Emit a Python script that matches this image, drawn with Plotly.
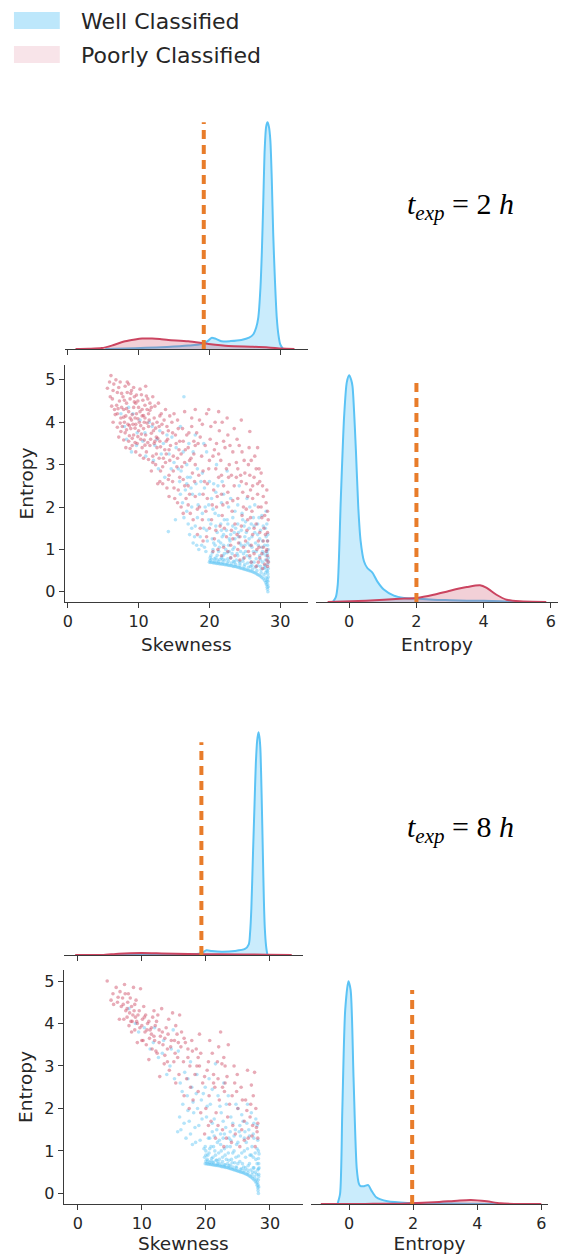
import plotly.graph_objects as go

# ------------------------------------------------------------------ data
LEGEND_LABELS = ["Well Classified", "Poorly Classified"]
PANEL_HOURS = ["2", "8"]
SKEW_TICKS = [0, 10, 20, 30]
ENT_TICKS_Y = [0, 1, 2, 3, 4, 5]
ENT_TICKS_X = [0, 2, 4, 6]

SKEW_THRESHOLD = [19.2, 19.3]
ENT_THRESHOLD = [2.0, 1.97]
SKEW_THR_HEIGHT = [1.0, 0.955]
ENT_THR_HEIGHT = [0.99, 0.96]

# KDE curves (relative density, tallest peak = 1)
P1_SKEW_WELL_X = [5.3, 8, 11, 14, 17.0, 18.9, 19.8, 20.3, 20.8, 21.7, 23.0, 24.5, 25.6, 26.2, 26.6, 26.9, 27.2, 27.4, 27.6, 27.8, 28.0, 28.2, 28.4, 28.6, 28.8, 29.0, 29.25, 29.5, 29.75, 30.0, 30.4]
P1_SKEW_WELL_Y = [0, 0.002, 0.005, 0.009, 0.015, 0.022, 0.036, 0.049, 0.046, 0.034, 0.035, 0.040, 0.050, 0.065, 0.095, 0.14, 0.27, 0.43, 0.65, 0.88, 0.98, 1.0, 0.98, 0.92, 0.75, 0.51, 0.3, 0.14, 0.06, 0.02, 0.0]
P1_SKEW_POOR_X = [1.1, 3.0, 4.8, 6.2, 8.1, 9.5, 10.5, 11.9, 13.0, 14.2, 17.0, 19.9, 22.7, 26.0, 28.3, 30.2, 32.0]
P1_SKEW_POOR_Y = [0, 0.001, 0.004, 0.015, 0.034, 0.042, 0.046, 0.046, 0.044, 0.040, 0.034, 0.022, 0.013, 0.010, 0.007, 0.002, 0]

P1_ENT_WELL_X = [-0.49, -0.4, -0.34, -0.25, -0.15, -0.07, 0.0, 0.06, 0.1, 0.2, 0.27, 0.34, 0.44, 0.54, 0.69, 0.84, 1.03, 1.33, 1.63, 2.0, 2.5, 3.0, 3.5, 4.0, 4.5, 5.07]
P1_ENT_WELL_Y = [0, 0.02, 0.077, 0.45, 0.82, 0.97, 1.0, 0.98, 0.95, 0.67, 0.42, 0.27, 0.18, 0.15, 0.13, 0.09, 0.055, 0.028, 0.018, 0.015, 0.010, 0.008, 0.006, 0.005, 0.003, 0]
P1_ENT_POOR_X = [-0.64, 0.05, 0.5, 1.03, 1.5, 2.02, 2.51, 3.0, 3.5, 3.89, 4.09, 4.38, 4.68, 5.07, 5.86]
P1_ENT_POOR_Y = [0, 0.003, 0.006, 0.010, 0.014, 0.018, 0.032, 0.050, 0.066, 0.074, 0.062, 0.032, 0.010, 0.003, 0]

P2_SKEW_WELL_X = [5.9, 10, 15, 18.3, 19.4, 20.1, 20.9, 22.5, 24.5, 26.1, 26.7, 26.9, 27.1, 27.35, 27.6, 27.8, 28.0, 28.2, 28.35, 28.5, 28.7, 28.9, 29.05, 29.2, 29.4, 29.6]
P2_SKEW_WELL_Y = [0, 0.001, 0.002, 0.003, 0.010, 0.021, 0.018, 0.015, 0.018, 0.027, 0.048, 0.1, 0.21, 0.45, 0.68, 0.86, 0.96, 1.0, 0.98, 0.93, 0.72, 0.45, 0.25, 0.12, 0.04, 0.0]
P2_SKEW_POOR_X = [-0.4, 3.8, 6.4, 10.0, 13.1, 17.3, 22, 29.7, 33.4]
P2_SKEW_POOR_Y = [0, 0.0, 0.006, 0.009, 0.007, 0.004, 0.003, 0.0015, 0]

P2_ENT_WELL_X = [-0.36, -0.28, -0.21, -0.12, -0.02, 0.05, 0.14, 0.24, 0.31, 0.36, 0.47, 0.6, 0.7, 0.85, 1.2, 1.82, 2.65, 3.7, 4.73]
P2_ENT_WELL_Y = [0, 0.045, 0.42, 0.87, 1.0, 0.96, 0.57, 0.16, 0.09, 0.08, 0.08, 0.085, 0.06, 0.03, 0.012, 0.0045, 0.003, 0.0015, 0]
P2_ENT_POOR_X = [-0.88, 0.5, 1.6, 2.65, 3.38, 3.8, 4.3, 4.73, 6.0]
P2_ENT_POOR_Y = [0, 0.0005, 0.0015, 0.0075, 0.015, 0.018, 0.012, 0.003, 0]

# Scatter points (skewness, entropy)
P1_POOR_PTS = [
    (6.1,5.1),(5.6,4.8),(6.5,4.9),(7.0,4.7),(7.4,4.95),(8.1,4.85),(8.6,4.9),(9.0,4.75),(6.3,4.55),(6.9,4.4),
    (7.3,4.5),(7.8,4.6),(8.3,4.45),(8.8,4.55),(9.4,4.6),(9.9,4.5),(10.4,4.65),(10.9,4.4),(11.3,4.55),(7.0,4.2),
    (7.5,4.1),(7.9,4.3),(8.2,4.15),(8.6,4.25),(9.0,4.05),(9.3,4.35),(9.7,4.2),(10.1,4.0),(10.5,4.3),(10.9,4.1),
    (11.4,4.2),(11.8,4.35),(12.2,4.1),(7.7,3.9),(8.1,3.75),(8.5,3.95),(8.9,3.85),(9.3,3.7),(9.6,3.95),(10.0,3.8),
    (10.3,3.6),(10.7,3.85),(11.0,3.7),(11.4,3.9),(11.7,3.6),(12.1,3.8),(12.5,3.65),(8.6,3.55),(9.1,3.45),(9.8,3.5),
    (10.5,3.4),(11.1,3.3),(11.6,3.45),(12.0,3.2),(12.6,3.4),(13.0,3.55),(7.2,3.65),(8.0,4.0),(9.5,4.1),(10.8,4.0),
    (6.6,4.3),(6.0,4.6),(8.4,4.7),(9.6,4.45),(11.0,4.85),(12.0,4.6),(12.8,4.45),(13.2,4.2),(13.6,4.05),(12.9,3.9),
    (13.4,3.75),(14.0,3.9),(14.4,4.15),(15.0,4.2),(15.5,4.05),(14.1,3.6),(13.7,3.35),(14.5,3.45),(15.2,3.7),(15.8,3.55),
    (16.2,3.85),(12.4,3.0),(13.1,2.85),(13.8,3.05),(14.3,2.75),(14.9,3.2),(15.4,2.95),(16.0,3.25),(16.5,3.05),(17.0,3.4),
    (17.4,3.15),(13.0,2.6),(14.0,2.45),(14.8,2.6),(15.6,2.4),(16.3,2.65),(17.0,2.5),(17.6,2.8),(18.0,3.0),(18.4,3.5),
    (18.9,3.2),(16.8,3.7),(17.5,3.9),(18.2,3.75),(19.0,3.95),(19.6,4.2),(20.2,3.9),(15.1,2.2),(16.0,2.0),(16.7,2.2),
    (17.3,1.85),(18.0,2.25),(18.6,2.0),(19.3,2.6),(19.9,2.9),(20.5,3.2),(21.0,3.5),(21.6,3.1),(22.2,3.4),(22.8,3.0),
    (23.3,3.3),(20.6,2.4),(21.3,2.7),(22.0,2.5),(22.7,2.7),(23.5,2.5),(24.0,2.9),(19.5,1.9),(20.3,1.7),(21.0,2.0),
    (21.8,1.8),(22.5,2.1),(23.2,1.9),(24.0,2.2),(18.7,1.5),(19.6,1.3),(20.9,1.45),(22.1,1.5),(23.6,1.6),(21.4,3.8),
    (22.6,3.7),(23.9,3.6),(24.6,3.3),(20.8,4.0),(24.5,2.6),(25.0,2.8),(25.5,3.0),(25.8,2.4),(26.3,2.7),(26.8,2.3),
    (27.3,2.0),(27.8,1.8),(24.8,2.0),(25.4,1.7),(26.0,1.9),(26.6,1.6),(27.1,1.4),(27.6,1.2),(28.1,1.0),(28.2,1.4),
    (28.0,2.1),(24.3,1.3),(25.1,1.2),(25.9,1.1),(26.7,1.0),(27.4,0.9),(28.1,0.75),(24.0,1.0),(23.0,1.1),(22.0,1.05),
    (21.2,1.0),(25.6,3.4),(26.4,3.2),(27.0,2.9),(28.3,1.7),(27.5,2.5),(25.7,0.85),(26.9,0.7),(28.2,0.6),(23.6,0.85),
    (24.9,0.8),(20.5,0.95),(10.7,3.15),(11.8,2.85),(12.7,2.55),(14.3,2.25),(7.6,4.35),(9.2,3.95),(10.2,4.25),(11.5,4.05),
    (8.8,4.1),(12.3,3.55),(13.5,3.15),(15.7,3.35),(17.8,3.55),(19.1,2.3),(21.7,2.3),(23.8,2.7),(26.1,2.2),(27.7,1.5),
    (5.9,4.95),(6.4,4.75),(6.8,5.0),(7.2,4.82),(7.6,4.68),(8.0,4.52),(8.4,4.95),(8.9,4.68),(9.3,4.82),(9.7,4.64),
    (10.2,4.78),(10.6,4.52),(11.1,4.62),(11.6,4.45),(12.3,4.38),(6.2,4.38),(6.7,4.18),(7.1,4.32),(7.4,3.98),(7.9,4.12),
    (8.3,4.32),(8.7,3.92),(9.1,4.18),(9.5,3.86),(9.9,4.08),(10.3,3.92),(10.7,4.16),(11.2,3.98),(11.6,4.28),(12.0,3.96),
    (12.4,3.86),(7.5,3.78),(7.9,3.58),(8.3,3.82),(8.7,3.68),(9.1,3.62),(9.5,3.52),(9.9,3.66),(10.4,3.72),(10.8,3.58),
    (11.3,3.52),(11.8,3.74),(12.2,3.5),(12.7,3.62),(13.1,3.42),(8.8,3.38),(9.6,3.3),(10.2,3.22),(10.9,3.46),(11.4,3.12),
    (12.0,3.05),(12.5,3.25),(6.4,4.0),(7.0,3.88),(8.2,3.4),(9.4,4.48),(10.0,4.35),(10.5,4.15),(11.2,4.3),(12.6,4.0),
    (13.0,4.15),(13.3,3.95),(13.8,4.3),(14.2,3.8),(14.7,4.0),(13.9,3.55),(14.3,3.35),(14.8,3.75),(15.3,3.5),(15.6,3.85),
    (12.9,3.15),(13.4,2.95),(13.9,3.25),(14.4,3.1),(14.9,2.85),(15.5,3.15),(16.1,2.95),(16.6,3.35),(17.2,3.1),(17.8,3.25),
    (13.4,2.55),(14.2,2.65),(15.0,2.45),(15.8,2.7),(16.5,2.5),(17.2,2.3),(17.9,2.6),(18.5,2.75),(19.1,2.85),(19.7,2.55),
    (16.3,3.55),(17.1,3.75),(18.0,3.45),(18.7,3.65),(19.4,3.45),(20.1,3.6),(20.7,3.35),(21.3,3.25),(22.0,3.55),(22.9,3.45),
    (15.5,2.1),(16.3,1.85),(17.0,2.05),(17.7,1.7),(18.3,1.95),(19.0,1.7),(19.7,2.2),(20.4,2.05),(21.1,2.25),(21.9,2.05),
    (22.6,2.35),(23.3,2.15),(18.3,1.35),(19.1,1.2),(20.0,1.5),(20.7,1.25),(21.5,1.55),(22.4,1.3),(23.1,1.45),(23.9,1.35),
    (20.0,3.1),(20.9,2.9),(21.7,2.75),(22.4,2.9),(23.1,2.75),(23.8,3.05),(24.4,2.75),(17.5,4.1),(18.6,4.05),(21.8,4.0),
    (24.7,2.35),(25.2,2.55),(25.7,2.75),(26.1,2.5),(26.6,2.9),(27.1,2.6),(27.6,2.25),(28.1,2.4),(24.6,1.8),(25.2,1.95),
    (25.8,1.75),(26.3,1.5),(26.9,2.0),(27.4,1.75),(27.9,1.35),(28.2,1.2),(24.5,1.55),(25.3,1.45),(26.1,1.35),(26.9,1.2),
    (27.6,1.05),(28.2,0.85),(24.1,1.15),(24.8,1.05),(25.5,0.95),(26.3,0.9),(27.1,0.8),(27.8,0.65),(28.3,0.7),(23.3,1.25),
    (22.6,0.95),(21.7,0.85),(23.0,0.8),(24.3,0.75),(25.9,0.7),(26.6,0.6),(27.5,0.55),(28.0,0.95),(27.0,1.05),(25.4,2.25),
    (26.8,2.55),(28.2,1.9),(24.9,3.1),(25.9,3.1),(27.3,2.8),
    (21.3,4.25),(24.5,4.05),(25.7,3.78),(26.8,3.4),(22.5,4.1),(23.5,3.85),(19.9,4.3),(16.5,4.25),(18.0,4.3),(24.2,3.45),
]
P1_WELL_PTS = [
    (20.0,0.70),(20.2,0.69),(20.4,0.69),(20.6,0.68),(20.8,0.68),(21.0,0.67),(21.2,0.67),(21.4,0.66),(21.6,0.66),(21.8,0.65),
    (22.0,0.65),(22.2,0.64),(22.4,0.64),(22.6,0.63),(22.8,0.62),(23.0,0.62),(23.2,0.61),(23.4,0.60),(23.6,0.60),(23.8,0.59),
    (24.0,0.58),(24.2,0.57),(24.4,0.56),(24.6,0.55),(24.8,0.54),(25.0,0.53),(25.2,0.52),(25.4,0.51),(25.6,0.50),(25.8,0.49),
    (26.0,0.48),(26.2,0.46),(26.4,0.45),(26.6,0.43),(26.8,0.41),(27.0,0.39),(27.2,0.37),(27.4,0.34),(27.6,0.31),(27.8,0.27),
    (27.95,0.22),(28.05,0.17),(28.15,0.11),(28.2,0.06),(28.25,0.0),
    (20.1,0.74),(20.7,0.72),(21.3,0.71),(21.9,0.70),(22.5,0.68),(23.1,0.67),(23.7,0.65),(24.3,0.63),(24.9,0.60),(25.5,0.58),
    (26.1,0.54),(26.7,0.50),(27.3,0.45),(27.7,0.40),(28.0,0.33),(28.1,0.25),(28.2,0.18),(28.2,0.3),(28.25,0.42),(28.3,0.55),
    (28.2,0.65),(28.3,0.8),(28.15,0.9),(28.3,1.0),
    (20.2,0.85),(20.5,1.0),(20.9,0.8),(21.3,0.95),(21.6,1.15),(21.9,0.85),(22.3,1.0),(22.6,0.78),(22.9,1.2),(23.2,0.9),
    (23.5,1.05),(23.8,0.75),(24.1,1.3),(24.4,0.95),(24.7,0.72),(25.0,1.1),(25.3,0.85),(25.6,1.25),(25.9,0.7),(26.2,0.95),
    (26.5,1.15),(26.8,0.62),(27.1,0.85),(27.4,1.05),(27.7,0.55),(27.9,0.75),(28.1,0.95),(20.4,1.25),(21.1,1.4),(21.8,1.3),
    (22.4,1.45),(23.0,1.35),(23.7,1.5),(24.5,1.45),(25.2,1.4),(26.0,1.3),(26.8,1.35),(27.5,1.2),(28.0,1.3),(20.7,0.78),
    (21.5,0.76),(22.1,0.9),(22.8,0.95),(23.4,0.72),(24.0,0.85),(24.8,0.9),(25.4,0.68),(26.0,0.62),(26.6,0.78),(27.2,0.6),
    (27.6,0.9),(28.1,0.5),(27.9,0.45),(27.5,0.7),
    (17.0,1.6),(17.5,2.0),(17.9,1.3),(18.3,1.75),(18.6,2.3),(18.9,1.1),(19.2,1.5),(19.4,2.0),(19.7,1.2),(19.9,1.7),
    (16.6,2.4),(16.2,2.1),(15.8,2.6),(17.3,2.7),(18.1,2.55),(20.3,2.2),(20.8,1.85),(21.2,2.5),(21.6,1.6),(22.0,2.3),
    (19.0,2.8),(20.0,2.6),(18.5,1.0),(19.5,0.95),(17.7,1.15),
    (22.5,1.7),(23.0,2.2),(23.6,1.9),(24.2,2.5),(24.7,1.7),(25.3,2.2),(25.9,1.6),(26.4,2.05),(27.0,1.75),(27.6,1.55),
    (28.0,1.9),(24.0,1.6),
    (8.0,3.9),(9.2,4.2),(9.8,3.75),(10.6,3.55),(11.5,4.0),(12.3,3.45),(13.2,3.25),(14.0,3.7),(14.6,2.9),(15.3,3.4),
    (16.0,2.85),(11.0,3.2),(13.7,2.7),(15.9,3.9),(16.8,3.0),(17.7,3.3),(9.0,3.3),(8.3,3.6),(16.4,4.6),(12.8,2.9),
    (18.3,2.9),(19.6,3.3),
    (20.1,0.8),(20.4,0.92),(20.8,1.1),(21.1,0.86),(21.4,1.05),(21.7,0.8),(22.0,1.1),(22.2,0.75),(22.5,0.92),(22.7,1.1),
    (23.0,0.8),(23.3,1.0),(23.6,1.25),(23.9,0.9),(24.2,0.72),(24.5,1.1),(24.8,0.78),(25.1,0.95),(25.4,1.15),(25.7,0.8),
    (26.0,1.05),(26.3,0.7),(26.6,0.95),(26.9,1.1),(27.2,0.75),(27.5,0.95),(27.8,0.62),(28.0,0.85),(28.2,1.1),(27.3,0.52),
    (26.5,0.58),(25.8,0.6),(25.0,0.65),(24.3,0.68),(23.5,0.7),(22.7,0.72),(21.9,0.76),(21.1,0.75),(20.3,0.77),(27.9,0.58),
    (20.6,1.15),(21.3,1.2),(22.0,1.35),(22.8,1.25),(23.5,1.4),(24.3,1.15),(25.0,1.3),(25.7,1.1),(26.4,1.4),(27.1,1.25),
    (27.8,1.1),(28.2,1.2),(20.9,1.55),(21.7,1.45),(22.6,1.6),(23.3,1.55),(24.1,1.4),(24.9,1.55),(25.6,1.5),(26.3,1.55),
    (27.2,1.45),(27.9,1.5),(28.25,1.35),(28.3,0.35),(28.25,0.25),(28.3,0.12),(28.2,0.48),(28.3,0.72),
    (16.8,1.9),(17.2,1.35),(17.6,2.3),(18.0,1.55),(18.4,2.05),(18.7,1.3),(19.0,1.85),(19.3,2.45),(19.6,1.45),(19.9,2.05),
    (20.2,1.6),(20.5,1.95),(20.9,2.35),(21.3,1.8),(21.7,2.1),(22.1,1.7),(17.4,2.45),(16.9,2.7),(15.9,2.3),(16.4,1.75),
    (18.8,2.6),(20.6,2.55),(21.8,2.6),(22.7,2.0),(23.3,1.75),(24.0,2.05),(24.6,1.85),(25.1,1.65),(25.7,2.0),(26.2,1.75),
    (26.8,1.6),(27.4,1.8),(28.1,1.6),(18.2,1.1),(19.3,1.05),(17.5,1.5),
    (7.5,4.2),(8.6,4.35),(10.2,4.05),(10.9,3.75),(11.9,3.9),(12.6,3.6),(13.5,3.5),(14.3,3.25),(15.0,3.05),(15.6,2.9),
    (16.3,3.3),(17.1,3.5),(14.7,3.65),(12.1,3.1),(9.7,3.45),(16.8,2.55),(13.0,3.8),(18.0,3.7),(19.2,3.5),(22.5,2.85),
    (21.0,3.0),(14.2,1.42),(15.2,1.7),
]
P2_POOR_PTS = [
    (4.6,5.0),(6.0,4.85),(7.3,4.92),(8.7,4.85),(9.8,4.82),(5.2,4.55),(5.6,4.45),(6.3,4.62),(6.8,4.4),(7.0,4.6),
    (7.5,4.3),(7.8,4.5),(8.1,4.25),(8.4,4.4),(8.8,4.3),(9.1,4.55),(9.4,4.2),(7.2,4.1),(7.7,4.15),(8.0,3.95),
    (8.5,4.05),(8.9,3.85),(9.3,4.0),(9.7,3.9),(10.1,4.1),(10.5,3.8),(10.9,4.0),(11.3,3.85),(11.7,4.15),(12.1,3.95),
    (12.5,4.2),(10.2,3.6),(10.7,3.5),(11.2,3.65),(11.6,3.4),(12.0,3.6),(12.4,3.3),(12.9,3.7),(13.3,3.5),(13.8,3.9),
    (14.2,4.1),(14.8,4.25),(15.3,3.95),(15.9,4.2),(14.0,3.4),(14.6,3.6),(15.2,3.3),(15.7,3.55),(16.2,3.8),(13.5,3.05),
    (14.3,2.9),(15.0,3.1),(15.8,2.8),(16.5,3.1),(17.2,3.4),(17.8,3.6),(18.5,3.4),(19.0,3.0),(17.0,2.7),(17.6,2.5),
    (18.3,2.8),(19.5,2.6),(20.2,2.9),(21.0,3.3),(21.8,3.1),(22.3,3.8),(22.8,3.2),(23.5,3.5),(20.5,2.3),(21.4,2.5),
    (22.1,2.2),(22.9,2.4),(23.7,2.1),(24.5,2.6),(19.2,1.9),(20.0,2.0),(20.8,1.7),(21.6,1.9),(22.6,1.5),(23.4,1.8),
    (24.2,1.6),(25.0,2.0),(25.6,1.5),(26.2,2.2),(26.5,2.9),(27.6,2.85),(26.9,1.8),(27.4,2.3),(27.9,1.55),(28.1,1.3),
    (27.7,1.1),(26.6,1.3),(25.3,1.1),(24.0,1.2),(22.8,1.1),(21.5,1.3),(18.0,2.2),(16.6,2.3),(12.8,2.75),(11.1,3.15),
    (9.3,3.55),(13.1,4.35),(6.5,4.1),(10.3,4.4),(11.9,4.3),(19.8,1.4),(25.5,2.5),(24.4,3.0),(17.5,3.0),(20.6,3.6),
    (7.9,4.7),(8.3,4.05),(9.0,4.15),(10.6,4.2),(11.5,3.75),(12.7,3.85),(13.6,3.25),(15.5,3.75),(16.8,3.55),(18.8,3.2),
    (21.2,2.8),(22.5,3.05),(23.0,2.6),(24.8,2.4),(26.0,1.7),(27.3,1.6),(28.0,1.45),(27.0,2.1),
    (5.5,4.7),(6.2,4.5),(6.6,4.75),(7.1,4.45),(7.4,4.7),(7.7,4.35),(8.2,4.6),(8.6,4.2),(8.9,4.45),(9.2,4.05),
    (9.6,4.3),(10.0,3.95),(10.4,4.15),(10.8,3.85),(11.1,4.05),(11.5,3.9),(11.9,3.7),(12.3,4.05),(12.7,3.55),(13.2,3.8),
    (13.6,3.65),(14.1,3.75),(14.5,3.45),(15.1,3.6),(15.6,3.2),(16.1,3.45),(16.6,3.65),(17.2,3.2),(17.9,3.35),(18.6,3.0),
    (19.2,3.3),(19.8,2.75),(20.4,3.1),(21.2,2.6),(21.9,2.7),(22.6,2.5),(23.3,2.75),(24.1,2.3),(24.9,2.8),(25.7,2.2),
    (26.4,1.95),(27.1,2.55),(27.8,2.0),(28.1,1.65),(26.0,1.25),(27.2,1.35),(24.6,1.4),(23.2,1.3),(21.9,1.6),(20.4,1.6),
    (18.8,2.4),(17.4,2.0),(15.3,2.6),(14.0,3.1),(12.2,3.35),(10.0,3.6),(8.4,3.8),(22.0,3.45),(23.0,3.0),(19.0,3.75),
]
P2_WELL_PTS = [
    (19.9,0.70),(20.1,0.70),(20.3,0.69),(20.5,0.69),(20.7,0.68),(20.9,0.68),(21.1,0.67),(21.3,0.67),(21.5,0.66),(21.7,0.66),
    (21.9,0.65),(22.1,0.65),(22.3,0.64),(22.5,0.63),(22.7,0.63),(22.9,0.62),(23.1,0.61),(23.3,0.61),(23.5,0.60),(23.7,0.59),
    (23.9,0.58),(24.1,0.57),(24.3,0.56),(24.5,0.55),(24.7,0.54),(24.9,0.53),(25.1,0.52),(25.3,0.51),(25.5,0.50),(25.7,0.49),
    (25.9,0.48),(26.1,0.47),(26.3,0.45),(26.5,0.44),(26.7,0.42),(26.9,0.40),(27.1,0.38),(27.3,0.35),(27.5,0.32),(27.7,0.29),
    (27.85,0.25),(28.0,0.19),(28.1,0.13),(28.15,0.07),(28.2,0.0),
    (20.0,0.76),(20.6,0.73),(21.2,0.72),(21.8,0.70),(22.4,0.69),(23.0,0.67),(23.6,0.65),(24.2,0.62),(24.8,0.60),(25.4,0.57),
    (26.0,0.54),(26.6,0.49),(27.2,0.44),(27.6,0.39),(27.9,0.33),(28.05,0.26),(28.15,0.2),(28.2,0.32),(28.25,0.45),(28.2,0.58),
    (28.25,0.7),(28.2,0.82),(28.3,0.93),
    (19.8,0.85),(20.0,1.0),(20.3,0.9),(20.6,1.05),(20.9,0.82),(21.2,1.1),(21.5,0.9),(21.8,1.2),(22.1,0.8),(22.4,1.0),
    (22.7,1.3),(23.0,0.9),(23.3,1.1),(23.6,0.78),(23.9,1.25),(24.2,0.95),(24.5,0.72),(24.8,1.15),(25.1,0.88),(25.4,1.35),
    (25.7,0.7),(26.0,1.0),(26.3,1.2),(26.6,0.65),(26.9,0.9),(27.2,1.1),(27.5,0.6),(27.8,0.8),(28.0,1.05),(28.1,0.55),
    (20.4,1.3),(21.0,1.45),(21.7,1.5),(22.3,1.4),(23.1,1.55),(23.8,1.45),(24.6,1.5),(25.3,1.6),(26.1,1.45),(26.8,1.35),
    (27.5,1.3),(28.0,1.6),(20.8,0.76),(21.6,0.78),(22.6,0.85),(23.4,0.7),(24.0,0.8),(25.0,0.7),(26.2,0.6),(27.0,0.55),
    (27.7,0.5),(27.4,0.85),
    (15.6,1.45),(16.1,1.5),(16.9,1.3),(17.4,1.7),(17.9,1.15),(18.3,1.55),(18.7,2.0),(19.1,1.25),(19.4,1.75),(19.7,1.05),
    (16.4,2.1),(17.1,2.3),(17.8,2.5),(18.5,2.35),(19.3,2.2),(20.1,1.8),(20.7,2.1),(21.3,1.75),(21.9,2.3),(22.4,1.9),
    (23.2,2.1),(23.9,1.8),(24.7,2.1),(25.6,1.85),(26.4,1.65),(27.1,1.9),(27.8,1.75),(16.0,2.6),(18.1,1.9),(19.9,2.5),
    (8.0,4.35),(9.5,3.8),(10.4,3.9),(11.8,3.55),(12.6,3.2),(13.4,3.6),(14.4,3.0),(15.1,2.7),(15.7,3.35),(16.7,2.85),
    (17.6,3.1),(13.9,2.8),(11.3,3.4),(14.9,3.85),(20.5,2.7),(22.8,2.6),(21.5,3.05),
    (20.0,0.9),(20.2,0.8),(20.5,0.95),(20.8,1.1),(21.1,0.85),(21.4,1.0),(21.7,0.78),(22.0,0.95),(22.3,1.15),(22.6,0.75),
    (22.9,1.05),(23.2,0.8),(23.5,0.95),(23.8,1.1),(24.1,0.72),(24.4,1.0),(24.7,0.85),(25.0,1.2),(25.3,0.75),(25.6,0.95),
    (25.9,0.62),(26.2,0.85),(26.5,1.05),(26.8,0.7),(27.1,0.9),(27.4,0.6),(27.7,0.95),(28.0,0.7),(28.2,1.0),(27.9,0.45),
    (27.3,0.5),(26.5,0.55),(25.6,0.58),(24.7,0.62),(23.8,0.66),(22.9,0.68),(22.0,0.72),(21.1,0.74),(20.3,0.76),(19.9,1.1),
    (20.6,1.3),(21.3,1.35),(22.1,1.25),(22.9,1.4),(23.6,1.3),(24.4,1.35),(25.2,1.45),(26.0,1.3),(26.7,1.5),(27.4,1.4),
    (28.1,1.25),(28.25,0.4),(28.3,0.6),(28.25,0.15),(21.0,1.65),(22.7,1.7),(24.2,1.65),(25.8,1.7),(27.5,1.65),(20.2,2.05),
    (18.9,1.6),(18.4,1.2),(17.6,1.4),(16.6,1.65),(17.2,1.95),(18.0,2.15),(19.6,2.35),(21.0,2.45),(22.2,2.05),(23.5,2.3),
    (25.0,2.0),(26.5,2.1),(15.9,1.8),(16.3,2.4),(9.0,4.0),(12.0,3.9),(13.2,3.3),(14.6,3.4),(17.2,2.7),(18.6,2.8),
]

# ------------------------------------------------------------------ style
W, H = 563, 1254
BLUE = "#5BC3F5"
BLUE_FILL = "rgba(91,195,245,0.32)"
RED = "#CB4460"
RED_FILL = "rgba(203,68,96,0.25)"
ORANGE = "#E87C2A"
AX = "#3a3a3a"
TXT = "#262626"
FONT = "DejaVu Sans"


def px_dom(a, b, total):
    return [a / total, b / total]


def py_dom(top, bottom):
    return [1 - bottom / H, 1 - top / H]


fig = go.Figure()


def kde(x, y, color, fill, ax):
    fig.add_trace(go.Scatter(x=x, y=y, mode="lines", line=dict(color=color, width=2, shape="spline", smoothing=0.7),
                             fill="tozeroy", fillcolor=fill, xaxis="x" + ax, yaxis="y" + ax,
                             showlegend=False, hoverinfo="skip"))


def thr(xv, h, ax):
    fig.add_trace(go.Scatter(x=[xv, xv], y=[0, h], mode="lines",
                             line=dict(color=ORANGE, width=4, dash="9px,6px"),
                             xaxis="x" + ax, yaxis="y" + ax, showlegend=False, hoverinfo="skip"))


def pts(points, color, ax, size=3.6, opacity=0.45):
    xs = [p[0] for p in points]
    ys = [p[1] for p in points]
    fig.add_trace(go.Scatter(x=xs, y=ys, mode="markers",
                             marker=dict(color=color, size=size, opacity=opacity, line=dict(width=0)),
                             xaxis="x" + ax, yaxis="y" + ax, showlegend=False, hoverinfo="skip"))


# panel 1
kde(P1_SKEW_WELL_X, P1_SKEW_WELL_Y, BLUE, BLUE_FILL, "")
kde(P1_SKEW_POOR_X, P1_SKEW_POOR_Y, RED, RED_FILL, "")
thr(SKEW_THRESHOLD[0], SKEW_THR_HEIGHT[0], "")
pts(P1_WELL_PTS, BLUE, "2")
pts(P1_POOR_PTS, RED, "2")
kde(P1_ENT_WELL_X, P1_ENT_WELL_Y, BLUE, BLUE_FILL, "3")
kde(P1_ENT_POOR_X, P1_ENT_POOR_Y, RED, RED_FILL, "3")
thr(ENT_THRESHOLD[0], ENT_THR_HEIGHT[0], "3")
# panel 2
kde(P2_SKEW_WELL_X, P2_SKEW_WELL_Y, BLUE, BLUE_FILL, "4")
kde(P2_SKEW_POOR_X, P2_SKEW_POOR_Y, RED, RED_FILL, "4")
thr(SKEW_THRESHOLD[1], SKEW_THR_HEIGHT[1], "4")
pts(P2_WELL_PTS, BLUE, "5")
pts(P2_POOR_PTS, RED, "5")
kde(P2_ENT_WELL_X, P2_ENT_WELL_Y, BLUE, BLUE_FILL, "6")
kde(P2_ENT_POOR_X, P2_ENT_POOR_Y, RED, RED_FILL, "6")
thr(ENT_THRESHOLD[1], ENT_THR_HEIGHT[1], "6")

base_x = dict(showgrid=False, zeroline=False, showline=True, linecolor=AX, linewidth=1.4,
              ticks="outside", ticklen=5, tickwidth=1.3, tickcolor=AX,
              tickfont=dict(family=FONT, size=16, color=TXT))
title_font = dict(family=FONT, size=18.5, color=TXT)
hidden_y = dict(visible=False, showgrid=False, zeroline=False, fixedrange=True)

layout = dict(
    width=W, height=H, margin=dict(l=0, r=0, t=0, b=0),
    plot_bgcolor="white", paper_bgcolor="white", showlegend=False,
    xaxis=dict(base_x, domain=px_dom(63, 307, W), range=[-0.42, 33.9], tickvals=SKEW_TICKS, showticklabels=False),
    yaxis=dict(hidden_y, domain=py_dom(111, 349), range=[0, 1.05]),
    xaxis2=dict(base_x, domain=px_dom(63, 307, W), range=[-0.42, 33.9], tickvals=SKEW_TICKS,
                title=dict(text="Skewness", font=title_font, standoff=7), anchor="y2"),
    yaxis2=dict(base_x, domain=py_dom(365, 602), range=[-0.24, 5.35], tickvals=ENT_TICKS_Y,
                title=dict(text="Entropy", font=title_font, standoff=6), anchor="x2"),
    xaxis3=dict(base_x, domain=px_dom(315, 558, W), range=[-0.99, 6.21], tickvals=ENT_TICKS_X,
                title=dict(text="Entropy", font=title_font, standoff=7), anchor="y3"),
    yaxis3=dict(hidden_y, domain=py_dom(364, 602), range=[0, 1.05], anchor="x3"),
    xaxis4=dict(base_x, domain=px_dom(62, 302, W), range=[-2.18, 35.15], tickvals=SKEW_TICKS,
                showticklabels=False, anchor="y4"),
    yaxis4=dict(hidden_y, domain=py_dom(721, 955), range=[0, 1.05], anchor="x4"),
    xaxis5=dict(base_x, domain=px_dom(62, 302, W), range=[-2.18, 35.15], tickvals=SKEW_TICKS,
                title=dict(text="Skewness", font=title_font, standoff=7), anchor="y5"),
    yaxis5=dict(base_x, domain=py_dom(970, 1204), range=[-0.25, 5.26], tickvals=ENT_TICKS_Y,
                title=dict(text="Entropy", font=title_font, standoff=6), anchor="x5"),
    xaxis6=dict(base_x, domain=px_dom(310, 548, W), range=[-1.19, 6.21], tickvals=ENT_TICKS_X,
                title=dict(text="Entropy", font=title_font, standoff=7), anchor="y6"),
    yaxis6=dict(hidden_y, domain=py_dom(970, 1204), range=[0, 1.05], anchor="x6"),
)
fig.update_layout(**layout)

# legend (patches + labels)
patch_cols = ["rgba(91,195,245,0.4)", "rgba(220,120,145,0.2)"]
for i, (lab, col) in enumerate(zip(LEGEND_LABELS, patch_cols)):
    top = 12 + i * 34
    fig.add_shape(type="rect", xref="paper", yref="paper",
                  x0=12 / W, x1=58 / W, y0=1 - (top + 17) / H, y1=1 - top / H,
                  fillcolor=col, line=dict(width=0))
    fig.add_annotation(xref="paper", yref="paper", x=77 / W, y=1 - (top + 9) / H,
                       xanchor="left", yanchor="middle", showarrow=False, text=lab,
                       font=dict(family=FONT, size=22, color=TXT))

# panel labels
for hours, yc in zip(PANEL_HOURS, [206, 829]):
    fig.add_annotation(xref="paper", yref="paper", x=460 / W, y=1 - yc / H,
                       xanchor="center", yanchor="middle", showarrow=False,
                       text="<i>t</i><sub><i>exp</i></sub> = " + hours + " <i>h</i>",
                       font=dict(family="Liberation Serif", size=30, color="black"))

fig.write_html("out.html")
